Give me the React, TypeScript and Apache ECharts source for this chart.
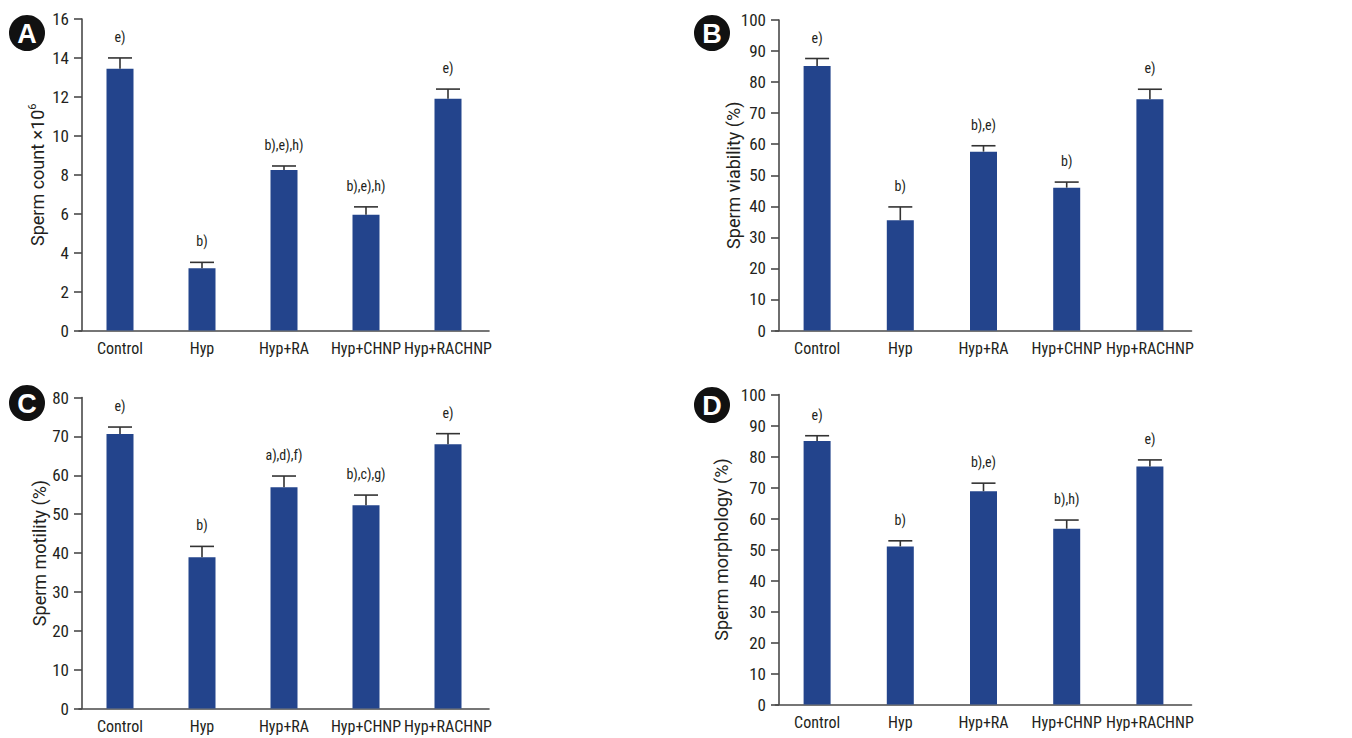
import React, { useEffect, useRef } from "react";
import * as echarts from "echarts";

const categories = ["Control", "Hyp", "Hyp+RA", "Hyp+CHNP", "Hyp+RACHNP"];

const countMean = [13.45, 3.2, 8.25, 5.95, 11.9];
const countSem = [0.55, 0.3, 0.2, 0.4, 0.5];
const countSig = ["e)", "b)", "b),e),h)", "b),e),h)", "e)"];

const viabMean = [85.2, 35.5, 57.6, 46.0, 74.5];
const viabSem = [2.4, 4.3, 1.9, 1.8, 3.2];
const viabSig = ["e)", "b)", "b),e)", "b)", "e)"];

const motMean = [70.6, 38.9, 56.9, 52.3, 68.0];
const motSem = [1.8, 2.8, 2.9, 2.6, 2.7];
const motSig = ["e)", "b)", "a),d),f)", "b),c),g)", "e)"];

const morphMean = [85.0, 51.0, 68.8, 56.7, 76.8];
const morphSem = [1.7, 1.8, 2.6, 2.8, 2.1];
const morphSig = ["e)", "b)", "b),e)", "b),h)", "e)"];

const FONT = '"Liberation Sans Narrow", "Roboto Condensed", "DejaVu Sans Condensed", "Noto Sans", sans-serif';
const NAME_FONT = 'Roboto, "Noto Sans", sans-serif';
const BAR = "#23448c";
const AXIS = "#4a4a4a";
const TEXT = "#231f20";

const panels = [
  { key: "A", mean: countMean, sem: countSem, sig: countSig, max: 16, interval: 2, name: "Sperm count ×10{sup|6}", grid: { left: 79, top: 19, width: 410, height: 311.5 }, yOffset: -3, nameGap: 34, badge: [27, 33] },
  { key: "B", mean: viabMean, sem: viabSem, sig: viabSig, max: 100, interval: 10, name: "Sperm viability (%)", grid: { left: 775.5, top: 20, width: 416, height: 310.5 }, yOffset: -3.5, nameGap: 37, badge: [712, 33] },
  { key: "C", mean: motMean, sem: motSem, sig: motSig, max: 80, interval: 10, name: "Sperm motility (%)", grid: { left: 79, top: 397.5, width: 410, height: 311 }, yOffset: -3, nameGap: 34, badge: [27, 403] },
  { key: "D", mean: morphMean, sem: morphSem, sig: morphSig, max: 100, interval: 10, name: "Sperm morphology (%)", grid: { left: 775.5, top: 394.5, width: 416, height: 310 }, yOffset: -3.5, nameGap: 49, badge: [712, 405] },
];

export default function App() {
  const ref = useRef<HTMLDivElement>(null);
  useEffect(() => {
    if (!ref.current) return;
    const chart = echarts.init(ref.current, undefined, { renderer: "svg" });
    const grids: any[] = [];
    const xAxes: any[] = [];
    const yAxes: any[] = [];
    const series: any[] = [];
    const graphics: any[] = [];
    panels.forEach((p, i) => {
      grids.push({ ...p.grid, containLabel: false });
      xAxes.push({
        type: "category",
        gridIndex: i,
        data: categories,
        axisLine: { lineStyle: { color: AXIS, width: 1.6 } },
        axisTick: { show: false },
        axisLabel: { color: TEXT, fontFamily: FONT, fontSize: 16, margin: 10, interval: 0, hideOverlap: false },
      });
      yAxes.push({
        type: "value",
        gridIndex: i,
        min: 0,
        max: p.max,
        interval: p.interval,
        offset: p.yOffset,
        name: p.name,
        nameLocation: "middle",
        nameGap: p.nameGap,
        nameMoveOverlap: false,
        nameTextStyle: {
          color: TEXT,
          fontFamily: NAME_FONT,
          fontSize: 18,
          rich: { sup: { fontSize: 11, verticalAlign: "top", padding: [0, 0, 10, 0], fontFamily: NAME_FONT, color: TEXT } },
        },
        axisLine: { show: true, lineStyle: { color: AXIS, width: 1.6 } },
        axisTick: { show: true, length: 8, lineStyle: { color: AXIS, width: 1.6 } },
        axisLabel: { color: TEXT, fontFamily: FONT, fontSize: 17, margin: 13 },
        splitLine: { show: false },
      });
      series.push({
        type: "bar",
        xAxisIndex: i,
        yAxisIndex: i,
        data: p.mean,
        barWidth: 27,
        itemStyle: { color: BAR },
        z: 2,
      });
      const sig = p.sig;
      series.push({
        type: "custom",
        xAxisIndex: i,
        yAxisIndex: i,
        z: 3,
        data: p.mean.map((m, j) => [j, m, m + p.sem[j]]),
        renderItem: (params: any, api: any) => {
          const x = api.value(0);
          const base = api.coord([x, api.value(1)]);
          const top = api.coord([x, api.value(2)]);
          const half = 12;
          return {
            type: "group",
            children: [
              { type: "line", shape: { x1: top[0], y1: base[1], x2: top[0], y2: top[1] }, style: { stroke: "#333", lineWidth: 1.6 } },
              { type: "line", shape: { x1: top[0] - half, y1: top[1], x2: top[0] + half, y2: top[1] }, style: { stroke: "#333", lineWidth: 1.6 } },
              {
                type: "text",
                x: top[0],
                y: top[1] - 21,
                style: { text: sig[params.dataIndex], fill: TEXT, font: `14px ${FONT}`, align: "center", verticalAlign: "middle" },
              },
            ],
          };
        },
      });
      graphics.push({ type: "circle", shape: { cx: p.badge[0], cy: p.badge[1], r: 18 }, style: { fill: "#111" } });
      graphics.push({
        type: "text",
        x: p.badge[0],
        y: p.badge[1] + 1,
        style: { text: p.key, fill: "#fff", stroke: "#111", lineWidth: 1, font: `bold 27px "Liberation Sans", Arial, sans-serif`, align: "center", verticalAlign: "middle" },
      });
    });
    chart.setOption({
      animation: false,
      backgroundColor: "#fff",
      grid: grids,
      xAxis: xAxes,
      yAxis: yAxes,
      series,
      graphic: graphics,
    });
    return () => chart.dispose();
  }, []);
  return <div ref={ref} style={{ position: "absolute", left: 0, top: 0, width: 1352, height: 738 }} />;
}
